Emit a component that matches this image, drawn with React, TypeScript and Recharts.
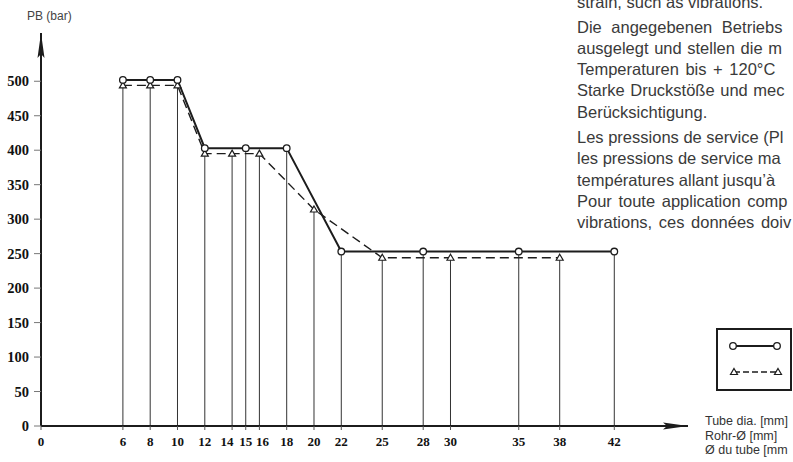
import React from 'react';
import {
  ComposedChart,
  Line,
  XAxis,
  YAxis,
  ReferenceLine,
  ReferenceDot,
  Legend,
} from 'recharts';

// tube diameter (mm) and permitted pressure PB (bar)
const solidDia = [6, 8, 10, 12, 15, 18, 22, 28, 35, 42];
const solidPB = [502, 502, 502, 403, 403, 403, 253, 253, 253, 253];
const dashedDia = [6, 8, 10, 12, 14, 16, 20, 25, 30, 38];
const dashedPB = [494, 494, 494, 395, 395, 395, 314, 244, 244, 244];

const xTicks = [0, 6, 8, 10, 12, 14, 15, 16, 18, 20, 22, 25, 28, 30, 35, 38, 42];
const yTicks = [0, 50, 100, 150, 200, 250, 300, 350, 400, 450, 500];
const xMax = 47.4;
const yMax = 570;

const textLines = [
  'strain, such as vibrations.',
  'Die angegebenen Betriebs',
  'ausgelegt und stellen die m',
  'Temperaturen bis + 120°C',
  'Starke Druckstöße und mec',
  'Berücksichtigung.',
  'Les pressions de service (Pl',
  'les pressions de service ma',
  'températures allant jusqu’à',
  'Pour toute application comp',
  'vibrations, ces données doiv',
];
const textTops = [2, 27, 48, 69, 90, 112, 137, 158, 180, 201, 222];
const textSpacing = [0, 5, 1, 2, 1, 0, 0, 0, 0, 2, 2];
const xLabelLines = ['Tube dia. [mm]', 'Rohr-Ø [mm]', 'Ø du tube [mm'];

const solidData = solidDia.map((x, i) => ({ x, pb: solidPB[i] }));
const dashedData = dashedDia.map((x, i) => ({ x, pb: dashedPB[i] }));

// vertical line from the axis up to the highest point at each diameter
const dropLines = xTicks
  .filter((x) => x > 0)
  .map((x) => {
    const a = solidDia.indexOf(x);
    const b = dashedDia.indexOf(x);
    return {
      x,
      top: Math.max(a >= 0 ? solidPB[a] : 0, b >= 0 ? dashedPB[b] : 0),
    };
  });

const INK = '#1c1c1c';
const SERIF = '"Liberation Serif", "Times New Roman", serif';

const CircleDot = (props: any) => {
  const { cx, cy } = props;
  if (cx == null || cy == null) return null;
  return <circle cx={cx} cy={cy} r={3.3} fill="#fff" stroke={INK} strokeWidth={1.3} />;
};

const TriangleDot = (props: any) => {
  const { cx, cy } = props;
  if (cx == null || cy == null) return null;
  return (
    <path
      d={`M${cx},${cy - 3.5} L${cx + 3.5},${cy + 2.5} L${cx - 3.5},${cy + 2.5} Z`}
      fill="#fff"
      stroke={INK}
      strokeWidth={1.2}
    />
  );
};

const XArrow = (props: any) => {
  const { cx, cy } = props;
  return (
    <path
      d={`M${cx},${cy} L${cx - 25},${cy - 3.5} L${cx - 21},${cy} L${cx - 25},${cy + 3.5} Z`}
      fill={INK}
    />
  );
};

const YArrow = (props: any) => {
  const { cx, cy } = props;
  return (
    <path
      d={`M${cx},${cy} L${cx - 3.5},${cy + 25} L${cx},${cy + 21} L${cx + 3.5},${cy + 25} Z`}
      fill={INK}
    />
  );
};

// crowded labels 14 / 16 are nudged apart as in the print
const xLabelShift: Record<number, number> = { 14: -5, 16: 3 };

const XTick = (props: any) => {
  const { x, y, payload } = props;
  return (
    <text
      x={x + (xLabelShift[payload.value] || 0)}
      y={y}
      dy="0.71em"
      textAnchor="middle"
      fontFamily={SERIF}
      fontWeight={700}
      fontSize={13}
      fill="#111"
    >
      {payload.value}
    </text>
  );
};

const LegendBox = () => (
  <div
    style={{
      width: 72,
      height: 59,
      border: `2px solid ${INK}`,
      background: '#fff',
    }}
  >
    <svg width={72} height={59} style={{ display: 'block' }}>
      <line x1={15} y1={16} x2={59} y2={16} stroke={INK} strokeWidth={2} />
      <CircleDot cx={15} cy={16} />
      <CircleDot cx={59} cy={16} />
      <line x1={16} y1={42} x2={60} y2={42} stroke={INK} strokeWidth={1.3} strokeDasharray="6 3" />
      <TriangleDot cx={16} cy={42} />
      <TriangleDot cx={60} cy={42} />
    </svg>
  </div>
);

export default function App() {
  return (
    <div
      style={{
        position: 'absolute',
        left: 0,
        top: 0,
        width: 793,
        height: 462,
        overflow: 'hidden',
        background: '#fff',
        fontFamily: '"Liberation Sans", Arial, sans-serif',
      }}
    >
      <ComposedChart
        width={793}
        height={462}
        margin={{ top: 33, right: 105, bottom: 6, left: 0 }}
      >
        <XAxis
          dataKey="x"
          type="number"
          domain={[0, xMax]}
          ticks={xTicks}
          interval={0}
          allowDataOverflow
          height={30}
          axisLine={{ stroke: INK, strokeWidth: 2 }}
          tickLine={{ stroke: '#555', strokeWidth: 1 }}
          tickSize={4}
          tickMargin={7}
          tick={<XTick />}
        />
        <YAxis
          type="number"
          domain={[0, yMax]}
          ticks={yTicks}
          interval={0}
          allowDataOverflow
          width={41}
          axisLine={{ stroke: INK, strokeWidth: 2 }}
          tickLine={{ stroke: '#777', strokeWidth: 1 }}
          tickSize={7}
          tickMargin={5}
          tick={{ fontFamily: SERIF, fontWeight: 700, fontSize: 14.5, fill: '#111' }}
        />

        {dropLines.map((d) => (
          <ReferenceLine
            key={d.x}
            segment={[
              { x: d.x, y: 0 },
              { x: d.x, y: d.top },
            ]}
            stroke="#333"
            strokeWidth={1}
            ifOverflow="visible"
          />
        ))}

        <ReferenceDot x={xMax} y={0} ifOverflow="visible" shape={XArrow} />
        <ReferenceDot x={0} y={yMax} ifOverflow="visible" shape={YArrow} />

        <Line
          data={dashedData}
          dataKey="pb"
          name="dashed"
          type="linear"
          stroke={INK}
          strokeWidth={1.4}
          strokeDasharray="9 5"
          dot={<TriangleDot />}
          activeDot={false}
          isAnimationActive={false}
        />
        <Line
          data={solidData}
          dataKey="pb"
          name="solid"
          type="linear"
          stroke={INK}
          strokeWidth={2}
          dot={<CircleDot />}
          activeDot={false}
          isAnimationActive={false}
        />

        <Legend
          layout="horizontal"
          align="center"
          verticalAlign="middle"
          content={<LegendBox />}
          wrapperStyle={{ position: 'absolute', left: 716, top: 328, width: 76, height: 63 }}
        />
      </ComposedChart>

      <div
        style={{
          position: 'absolute',
          left: 27,
          top: 9,
          fontSize: 12,
          color: '#444',
          whiteSpace: 'nowrap',
        }}
      >
        PB (bar)
      </div>

      {xLabelLines.map((t, i) => (
        <div
          key={t}
          style={{
            position: 'absolute',
            left: 705,
            top: 414 + i * 14.5,
            fontSize: 12.5,
            lineHeight: '15px',
            color: '#333',
            whiteSpace: 'nowrap',
          }}
        >
          {t}
        </div>
      ))}

      {textLines.map((t, i) => (
        <div
          key={t}
          style={{
            position: 'absolute',
            left: 577,
            top: textTops[i] - 11,
            fontSize: 16.5,
            lineHeight: '22px',
            wordSpacing: textSpacing[i],
            color: '#3a3a3a',
            whiteSpace: 'nowrap',
          }}
        >
          {t}
        </div>
      ))}
    </div>
  );
}
